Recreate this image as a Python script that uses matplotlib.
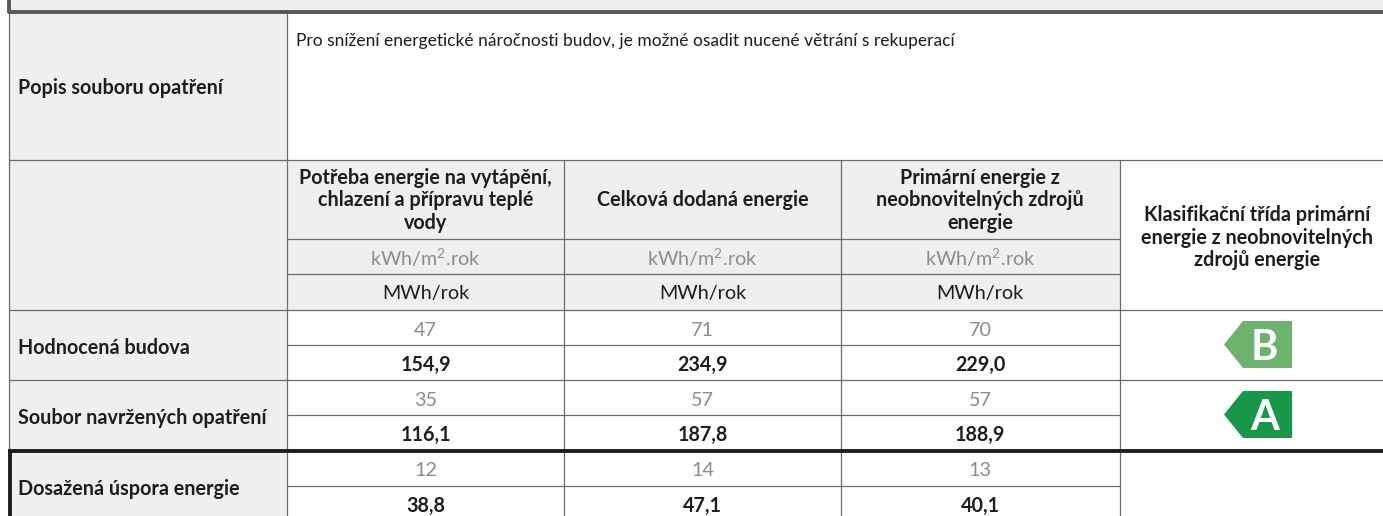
import matplotlib
matplotlib.use('Agg')
from matplotlib import pyplot
from matplotlib.patches import Rectangle, Polygon

pyplot.rcParams['font.family'] = ['Lato', 'DejaVu Sans']
pyplot.rcParams['mathtext.default'] = 'regular'

# table content
row_names = ['Hodnocená budova', 'Soubor navržených opatření', 'Dosažená úspora energie']
col_heads = ['Potřeba energie na vytápění,\nchlazení a přípravu teplé\nvody',
             'Celková dodaná energie',
             'Primární energie z\nneobnovitelných zdrojů\nenergie']
class_head = 'Klasifikační třída primární\nenergie z neobnovitelných\nzdrojů energie'
unit_area = 'kWh/m$^{2}$.rok'
unit_year = 'MWh/rok'
per_area = [['47', '71', '70'], ['35', '57', '57'], ['12', '14', '13']]
per_year = [['154,9', '234,9', '229,0'], ['116,1', '187,8', '188,9'], ['38,8', '47,1', '40,1']]
classes = ['B', 'A']
class_colors = ['#6CB36E', '#169848']
popis_label = 'Popis souboru opatření'
popis_text = 'Pro snížení energetické náročnosti budov, je možné osadit nucené větrání s rekuperací'

# grid in pixels
W, H = 1383, 516
xs = [8.5, 287, 564, 841, 1119.5, W]
ys_rows = [310, 380, 451]
line_col = '#6b6b6b'
grey = '#EEEFEF'
dark = '#1d1d1b'
kw = {'fontsize': 14.2, 'color': dark}

fig = pyplot.figure(figsize=(W/100, H/100), dpi=100)
ax = fig.add_axes([0, 0, 1, 1])
ax.set_xlim(0, W)
ax.set_ylim(H, 0)
ax.axis('off')

def hline(y, x0, x1, lw=0.9, c=line_col):
    ax.plot([x0, x1], [y, y], color=c, lw=lw, solid_capstyle='butt', zorder=3)

def vline(x, y0, y1, lw=0.9, c=line_col):
    ax.plot([x, x], [y0, y1], color=c, lw=lw, solid_capstyle='butt', zorder=3)

# grey fills
ax.add_patch(Rectangle((9, 0), W-9, 13, fc=grey, ec='none'))
ax.add_patch(Rectangle((xs[0], 13), xs[1]-xs[0], H-13, fc=grey, ec='none'))
ax.add_patch(Rectangle((xs[1], 160), xs[4]-xs[1], 150, fc=grey, ec='none'))

# rules
for y in [160, 310, 380]:
    hline(y, xs[0], W)
for y in [239, 274]:
    hline(y, xs[1], xs[4])
for y in [345, 415, 486]:
    hline(y, xs[1], xs[4])
vline(xs[0], 13, 451)
vline(xs[1], 13, H)
for x in xs[2:5]:
    vline(x, 160, H)

# thick frames
hline(11.5, 7.5, W, lw=2.8, c='#575756')
vline(9, 0, 13, lw=2.8, c='#575756')
hline(451, 8, W, lw=2.8, c=dark)
vline(9.5, 450, H, lw=2.8, c=dark)

# left column
ax.text(18, 88.5, popis_label, va='center', fontweight='bold', **kw)
ax.text(296, 41, popis_text, va='center', fontsize=12.5, color=dark)
for i, name in enumerate(row_names):
    ax.text(18, ys_rows[i]+38, name, va='center', fontweight='bold', **kw)

# columns
for j in range(3):
    cx = (xs[j+1]+xs[j+2])/2
    ax.text(cx, 200.5, col_heads[j], ha='center', va='center', fontweight='bold',
            linespacing=1.13, **kw)
    ax.text(cx, 258, unit_area, ha='center', va='center', fontsize=14.2, color='#8c8c8c')
    ax.text(cx, 293.5, unit_year, ha='center', va='center', fontsize=14.2, color=dark)
    for i in range(3):
        top = ys_rows[i]
        ax.text(cx, top+20, per_area[i][j], ha='center', va='center', fontsize=14.2, color='#8c8c8c')
        ax.text(cx, top+55, per_year[i][j], ha='center', va='center', fontweight='bold', **kw)

ax.text(1257, 237.5, class_head, ha='center', va='center', fontweight='bold', linespacing=1.13, **kw)

# energy class arrows
for i, (letter, col) in enumerate(zip(classes, class_colors)):
    top = ys_rows[i] + 11
    bottom = top + 47
    left, neck, right = 1224, 1243, 1292
    ax.add_patch(Polygon([(left, (top+bottom)/2), (neck, top), (right, top), (right, bottom), (neck, bottom)],
                         closed=True, fc=col, ec='none', zorder=2))
    ax.text(1264.5, (top+bottom)/2, letter, ha='center', va='center_baseline', color='white',
            fontsize=30, fontweight='bold', zorder=4)

pyplot.savefig('out.png', dpi=100)
